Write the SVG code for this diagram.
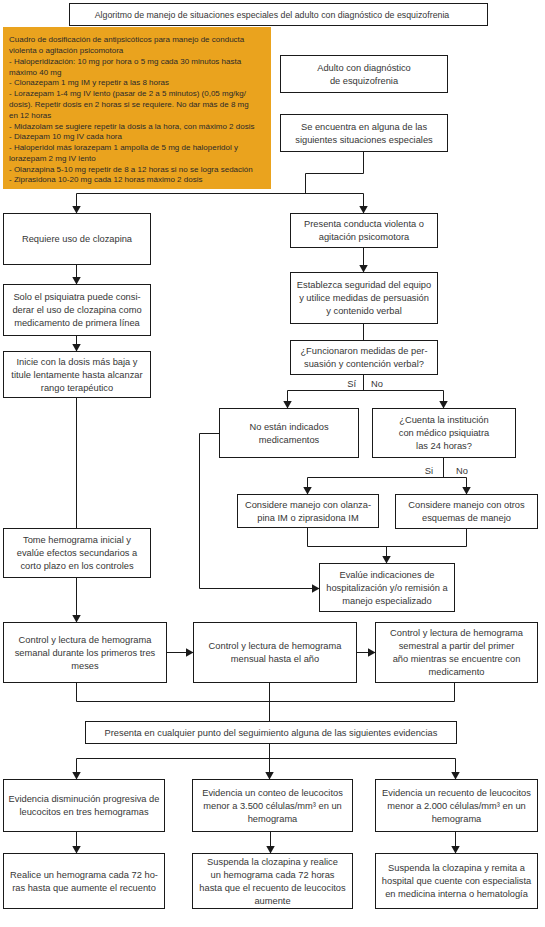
<svg xmlns="http://www.w3.org/2000/svg" width="545" height="927" viewBox="0 0 545 927">
<style>
.box{fill:#fff;stroke:#1a1a1a;stroke-width:1}
.t{font-family:'Liberation Sans',Arial,sans-serif;font-size:9.3px;fill:#363636;text-anchor:middle}
.o{font-family:'Liberation Sans',Arial,sans-serif;font-size:8px;fill:#2a2a2a}
.l{text-anchor:end}
.s{text-anchor:start}
.c{fill:none;stroke:#1a1a1a;stroke-width:1}
.a{marker-end:url(#arr)}
</style>
<defs>
<marker id="arr" viewBox="0 0 8 10" refX="8" refY="5" markerWidth="8" markerHeight="10" orient="auto" markerUnits="userSpaceOnUse">
<path d="M0,0.5 L8,5 L0,9.5 z" fill="#1a1a1a"/>
</marker>
</defs>
<rect width="545" height="927" fill="#fff"/>

<g id="title">
<rect class="box" x="69.5" y="3.5" width="418" height="22"/>
<text class="t" x="272" y="17.8" style="font-size:8.8px">Algoritmo de manejo de situaciones especiales del adulto con diagnóstico de esquizofrenia</text>
</g>

<g id="dosificacion">
<rect x="3" y="27" width="268" height="162" fill="#EAA31E"/>
<text class="o" x="9" y="42.3">Cuadro de dosificación de antipsicóticos para manejo de conducta</text>
<text class="o" x="9" y="53.1">violenta o agitación psicomotora</text>
<text class="o" x="9" y="63.8">- Haloperidización: 10 mg por hora o 5 mg cada 30 minutos hasta</text>
<text class="o" x="9" y="74.6">máximo 40 mg</text>
<text class="o" x="9" y="85.4">- Clonazepam 1 mg IM y repetir a las 8 horas</text>
<text class="o" x="9" y="96.2">- Lorazepam 1-4 mg IV lento (pasar de 2 a 5 minutos) (0,05 mg/kg/</text>
<text class="o" x="9" y="106.9">dosis). Repetir dosis en 2 horas si se requiere. No dar más de 8 mg</text>
<text class="o" x="9" y="117.7">en 12 horas</text>
<text class="o" x="9" y="128.5">- Midazolam se sugiere repetir la dosis a la hora, con máximo 2 dosis</text>
<text class="o" x="9" y="139.2">- Diazepam 10 mg IV cada hora</text>
<text class="o" x="9" y="150.0">- Haloperidol más lorazepam 1 ampolla de 5 mg de haloperidol y</text>
<text class="o" x="9" y="160.8">lorazepam 2 mg IV lento</text>
<text class="o" x="9" y="171.5">- Olanzapina 5-10 mg repetir de 8 a 12 horas si no se logra sedación</text>
<text class="o" x="9" y="182.3">- Ziprasidona 10-20 mg cada 12 horas máximo 2 dosis</text>
</g>

<g id="adulto">
<rect class="box" x="280.5" y="55.5" width="167" height="37"/>
<text class="t" x="364" y="70.8">Adulto con diagnóstico</text>
<text class="t" x="364" y="83.8">de esquizofrenia</text>
</g>

<g id="situaciones">
<rect class="box" x="280.5" y="114.5" width="167" height="37"/>
<text class="t" x="364" y="129.8">Se encuentra en alguna de las</text>
<text class="t" x="364" y="142.8">siguientes situaciones especiales</text>
</g>

<g id="clozapina">
<rect class="box" x="3.5" y="213.5" width="147" height="51"/>
<text class="t" x="77" y="242.3">Requiere uso de clozapina</text>
</g>

<g id="psiquiatra">
<rect class="box" x="3.5" y="284.5" width="147" height="51"/>
<text class="t" x="77" y="300.3">Solo el psiquiatra puede consi-</text>
<text class="t" x="77" y="313.3">derar el uso de clozapina como</text>
<text class="t" x="77" y="326.3">medicamento de primera línea</text>
</g>

<g id="inicie">
<rect class="box" x="3.5" y="351.5" width="147" height="46"/>
<text class="t" x="77" y="364.8">Inicie con la dosis más baja y</text>
<text class="t" x="77" y="377.8">titule lentamente hasta alcanzar</text>
<text class="t" x="77" y="390.8">rango terapéutico</text>
</g>

<g id="tome">
<rect class="box" x="3.5" y="528.5" width="147" height="49"/>
<text class="t" x="77" y="543.3">Tome hemograma inicial y</text>
<text class="t" x="77" y="556.3">evalúe efectos secundarios a</text>
<text class="t" x="77" y="569.3">corto plazo en los controles</text>
</g>

<g id="violenta">
<rect class="box" x="290.5" y="213.5" width="147" height="34"/>
<text class="t" x="364" y="227.3">Presenta conducta violenta o</text>
<text class="t" x="364" y="240.3">agitación psicomotora</text>
</g>

<g id="seguridad">
<rect class="box" x="290.5" y="272.5" width="147" height="51"/>
<text class="t" x="364" y="288.3">Establezca seguridad del equipo</text>
<text class="t" x="364" y="301.3">y utilice medidas de persuasión</text>
<text class="t" x="364" y="314.3">y contenido verbal</text>
</g>

<g id="funcionaron">
<rect class="box" x="290.5" y="340.5" width="147" height="34"/>
<text class="t" x="364" y="354.3">¿Funcionaron medidas de per-</text>
<text class="t" x="364" y="367.3">suasión y contención verbal?</text>
</g>

<g id="noindicados">
<rect class="box" x="219.5" y="408.5" width="139" height="49"/>
<text class="t" x="289" y="429.8">No están indicados</text>
<text class="t" x="289" y="442.8">medicamentos</text>
</g>

<g id="institucion">
<rect class="box" x="372.5" y="408.5" width="143" height="49"/>
<text class="t" x="444" y="423.3">¿Cuenta la institución</text>
<text class="t" x="444" y="436.3">con médico psiquiatra</text>
<text class="t" x="444" y="449.3">las 24 horas?</text>
</g>

<g id="olanzapina">
<rect class="box" x="237.5" y="494.5" width="141" height="33"/>
<text class="t" x="308" y="507.8">Considere manejo con olanza-</text>
<text class="t" x="308" y="520.8">pina IM o ziprasidona IM</text>
</g>

<g id="otros">
<rect class="box" x="395.5" y="494.5" width="142" height="34"/>
<text class="t" x="466.5" y="508.3">Considere manejo con otros</text>
<text class="t" x="466.5" y="521.3">esquemas de manejo</text>
</g>

<g id="evalue">
<rect class="box" x="319.5" y="563.5" width="135" height="48"/>
<text class="t" x="387" y="577.8">Evalúe indicaciones de</text>
<text class="t" x="387" y="590.8">hospitalización y/o remisión a</text>
<text class="t" x="387" y="603.8">manejo especializado</text>
</g>

<g id="semanal">
<rect class="box" x="3.5" y="622.5" width="163" height="60"/>
<text class="t" x="85" y="642.8">Control y lectura de hemograma</text>
<text class="t" x="85" y="655.8">semanal durante los primeros tres</text>
<text class="t" x="85" y="668.8">meses</text>
</g>

<g id="mensual">
<rect class="box" x="193.5" y="622.5" width="163" height="60"/>
<text class="t" x="275" y="649.3">Control y lectura de hemograma</text>
<text class="t" x="275" y="662.3">mensual hasta el año</text>
</g>

<g id="semestral">
<rect class="box" x="375.5" y="622.5" width="162" height="60"/>
<text class="t" x="456.5" y="636.3">Control y lectura de hemograma</text>
<text class="t" x="456.5" y="649.3">semestral a partir del primer</text>
<text class="t" x="456.5" y="662.3">año mientras se encuentre con</text>
<text class="t" x="456.5" y="675.3">medicamento</text>
</g>

<g id="evidencias">
<rect class="box" x="85.5" y="721.5" width="371" height="22"/>
<text class="t" x="271" y="735.8">Presenta en cualquier punto del seguimiento alguna de las siguientes evidencias</text>
</g>

<g id="ev1">
<rect class="box" x="3.5" y="779.5" width="161" height="52"/>
<text class="t" x="84" y="802.3">Evidencia disminución progresiva de</text>
<text class="t" x="84" y="815.3">leucocitos en tres hemogramas</text>
</g>

<g id="ev2">
<rect class="box" x="192.5" y="779.5" width="160" height="52"/>
<text class="t" x="272.5" y="795.8">Evidencia un conteo de leucocitos</text>
<text class="t" x="272.5" y="808.8">menor a 3.500 células/mm³ en un</text>
<text class="t" x="272.5" y="821.8">hemograma</text>
</g>

<g id="ev3">
<rect class="box" x="375.5" y="779.5" width="162" height="52"/>
<text class="t" x="456.5" y="795.8">Evidencia un recuento de leucocitos</text>
<text class="t" x="456.5" y="808.8">menor a 2.000 células/mm³ en un</text>
<text class="t" x="456.5" y="821.8">hemograma</text>
</g>

<g id="r1">
<rect class="box" x="3.5" y="853.5" width="161" height="55"/>
<text class="t" x="84" y="877.8">Realice un hemograma cada 72 ho-</text>
<text class="t" x="84" y="890.8">ras hasta que aumente el recuento</text>
</g>

<g id="r2">
<rect class="box" x="192.5" y="853.5" width="160" height="55"/>
<text class="t" x="272.5" y="864.8">Suspenda la clozapina y realice</text>
<text class="t" x="272.5" y="877.8">un hemograma cada 72 horas</text>
<text class="t" x="272.5" y="890.8">hasta que el recuento de leucocitos</text>
<text class="t" x="272.5" y="903.8">aumente</text>
</g>

<g id="r3">
<rect class="box" x="375.5" y="853.5" width="162" height="55"/>
<text class="t" x="456.5" y="871.3">Suspenda la clozapina y remita a</text>
<text class="t" x="456.5" y="884.3">hospital que cuente con especialista</text>
<text class="t" x="456.5" y="897.3">en medicina interna o hematología</text>
</g>

<g id="connectors">
<path class="c" d="M363.5,151.5 V173.5 H305.5 V193.5"/>
<path class="c" d="M76.5,193.5 H363.5"/>
<path class="c a" d="M76.5,193.5 V213.5"/>
<path class="c a" d="M363.5,193.5 V213.5"/>
<path class="c a" d="M76.5,264.5 V284.5"/>
<path class="c a" d="M76.5,335.5 V351.5"/>
<path class="c" d="M76.5,397.5 V528.5"/>
<path class="c a" d="M76.5,577.5 V622.5"/>
<path class="c a" d="M363.5,247.5 V272.5"/>
<path class="c" d="M363.5,323.5 V340.5"/>
<path class="c" d="M363.5,374.5 V390.5"/>
<path class="c" d="M287.5,390.5 H443.5"/>
<path class="c a" d="M287.5,390.5 V408.5"/>
<path class="c a" d="M443.5,390.5 V408.5"/>
<text class="t l" x="356" y="386.5">Sí</text>
<text class="t s" x="371" y="386.5">No</text>
<path class="c" d="M443.5,457.5 V477.5"/>
<path class="c" d="M307.5,477.5 H466.5"/>
<path class="c a" d="M307.5,477.5 V494.5"/>
<path class="c a" d="M466.5,477.5 V494.5"/>
<text class="t l" x="433" y="473.5">Si</text>
<text class="t s" x="456" y="473.5">No</text>
<path class="c" d="M307.5,527.5 V546.5 H466.5 V528.5"/>
<path class="c a" d="M386.5,546.5 V563.5"/>
<path class="c a" d="M219.5,433.5 H199.5 V588.5 H319.5"/>
<path class="c a" d="M166.5,652.5 H193.5"/>
<path class="c a" d="M356.5,652.5 H375.5"/>
<path class="c" d="M76.5,682.5 V701.5 H454.5 V682.5"/>
<path class="c" d="M269.5,682.5 V721.5"/>
<path class="c" d="M269.5,743.5 V758.5"/>
<path class="c" d="M76.5,758.5 H455.5"/>
<path class="c a" d="M76.5,758.5 V779.5"/>
<path class="c a" d="M269.5,758.5 V779.5"/>
<path class="c a" d="M455.5,758.5 V779.5"/>
<path class="c a" d="M76.5,831.5 V853.5"/>
<path class="c a" d="M270.5,831.5 V853.5"/>
<path class="c a" d="M455.5,831.5 V853.5"/>
</g>
</svg>
